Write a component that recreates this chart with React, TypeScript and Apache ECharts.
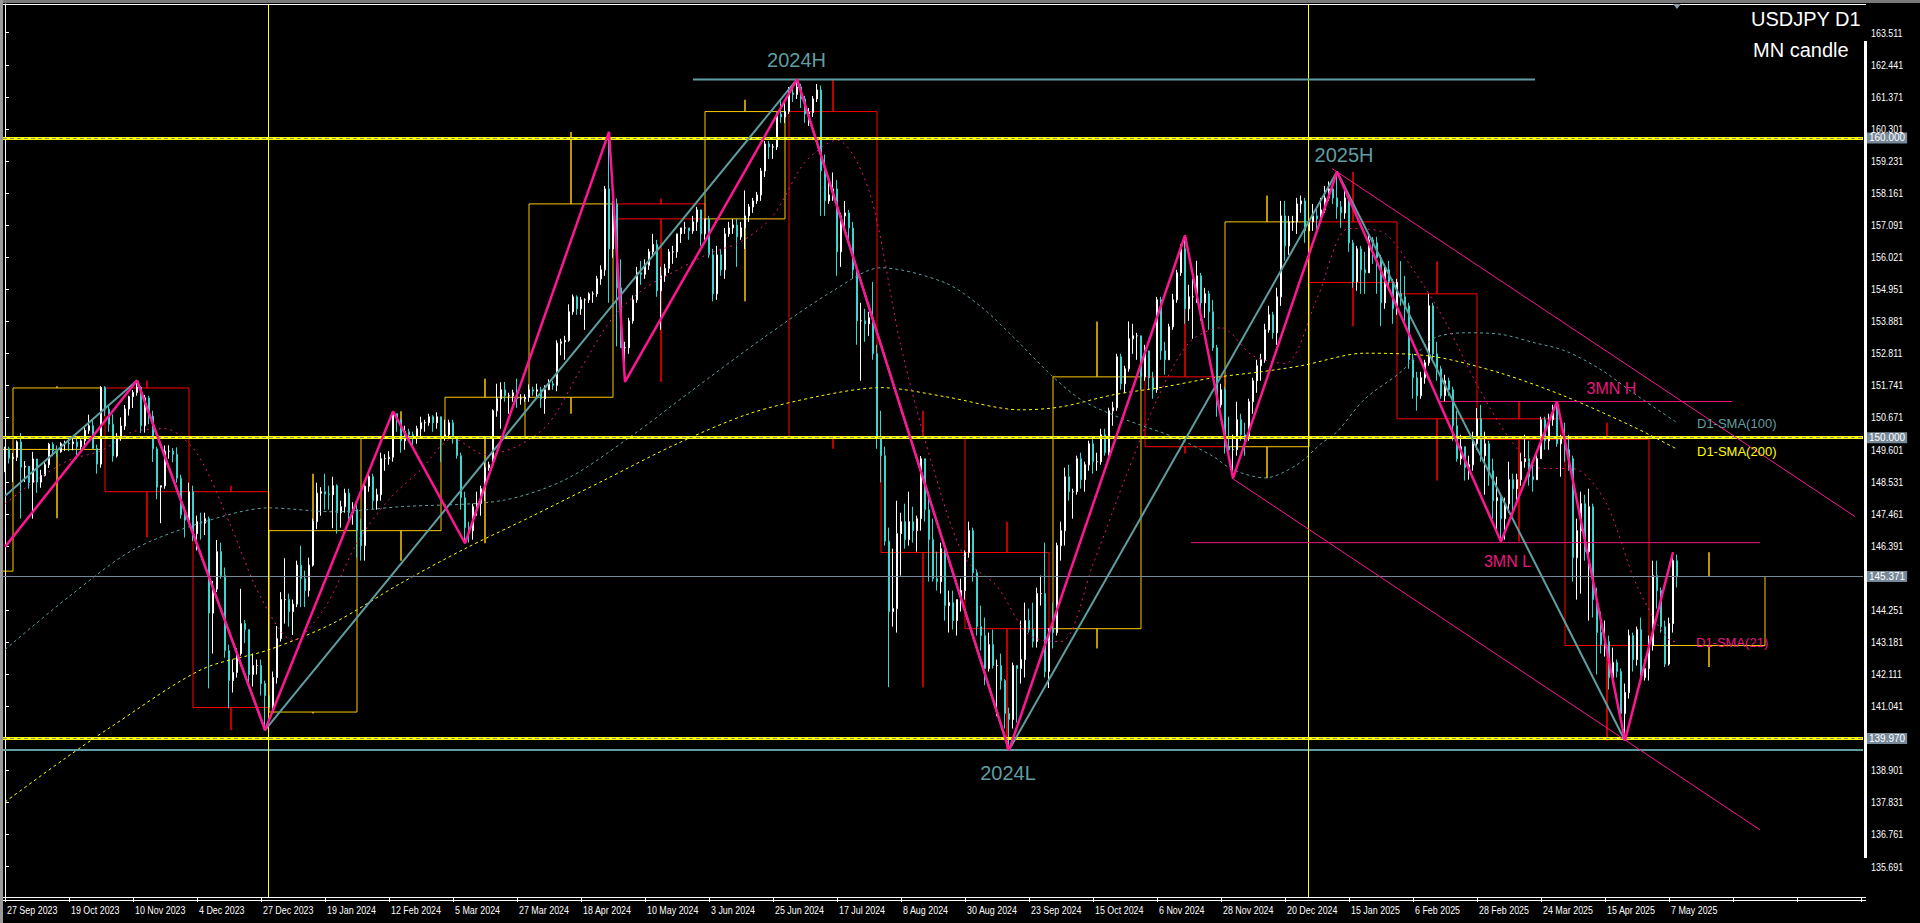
import { useEffect, useRef } from 'react';
import * as echarts from 'echarts';

// ---------- daily candles [open, high, low, close] ----------
const sep2023 = [[148.90,149.70,148.85,149.63],[149.63,149.70,149.14,149.31],[149.31,149.49,148.52,149.35]];
const oct2023 = [[149.35,149.91,149.22,149.86],[149.86,150.16,147.30,149.02],[149.02,149.22,148.52,149.05],[149.05,149.05,148.30,148.51],[148.51,149.53,147.30,149.29],[149.29,149.29,148.16,148.52],[148.52,148.93,148.33,148.74],[148.74,149.18,148.71,149.10],[149.10,149.83,148.99,149.78],[149.78,149.85,149.38,149.56],[149.56,149.74,149.35,149.53],[149.53,149.85,149.50,149.80],[149.80,149.90,149.56,149.82],[149.82,149.98,149.55,149.80],[149.80,150.00,149.58,149.86],[149.86,150.05,149.30,149.70],[149.70,149.95,149.60,149.90],[149.90,150.37,149.75,150.24],[150.24,150.77,150.13,150.40],[150.40,150.60,149.62,149.64],[149.64,149.77,148.80,149.12],[149.12,151.72,149.00,151.68]];
const nov2023 = [[151.68,151.72,150.72,150.95],[150.95,151.10,150.20,150.45],[150.45,150.78,149.20,149.39],[149.39,150.15,149.34,150.05],[150.05,150.68,149.90,150.39],[150.39,151.09,150.26,150.96],[150.96,151.40,150.74,151.37],[151.37,151.59,150.99,151.51],[151.51,151.91,151.40,151.69],[151.69,151.73,150.16,150.40],[150.40,151.43,150.17,151.33],[151.33,151.40,150.45,150.72],[150.72,150.90,149.19,149.63],[149.63,149.70,147.95,148.35],[148.35,148.40,147.15,148.40],[148.40,149.74,148.30,149.55],[149.55,149.75,149.30,149.55],[149.55,149.66,149.18,149.45],[149.45,149.68,148.50,148.65],[148.65,148.77,147.30,147.43],[147.43,147.70,146.67,147.25],[147.25,148.50,147.15,148.20]];
const dec2023 = [[148.20,148.40,146.55,146.80],[146.80,147.40,146.24,147.20],[147.20,147.50,146.60,147.15],[147.15,147.50,146.75,147.30],[147.30,147.37,141.64,144.15],[144.15,145.22,142.80,144.95],[144.95,146.59,144.85,146.20],[146.20,146.50,145.30,145.40],[145.40,145.67,142.66,142.90],[142.90,143.10,140.97,141.90],[141.90,142.60,141.50,142.17],[142.17,142.98,142.00,142.80],[142.80,144.96,142.73,143.80],[143.80,143.92,143.15,143.60],[143.60,143.60,141.80,142.10],[142.10,142.80,141.70,142.40],[142.40,142.60,142.10,142.40],[142.40,142.60,141.40,141.80],[141.80,141.90,140.25,141.40],[141.40,141.80,140.80,141.00]];
const jan2024 = [[140.85,142.20,140.80,142.00],[142.00,143.72,141.80,143.30],[143.30,144.85,143.20,144.60],[144.60,145.98,143.80,144.60],[144.60,144.80,143.70,144.20],[144.20,144.60,143.42,144.45],[144.45,145.90,144.35,145.75],[145.75,146.40,144.35,145.30],[145.30,145.57,144.35,144.90],[144.90,146.00,144.70,145.75],[145.75,147.30,145.70,147.20],[147.20,148.50,146.95,148.15],[148.15,148.35,147.40,148.20],[148.20,148.80,147.60,148.12],[148.12,148.40,147.60,148.10],[148.10,148.70,146.98,148.40],[148.40,148.45,146.80,147.50],[147.50,147.90,147.00,147.70],[147.70,148.30,147.50,148.15],[148.15,148.30,147.20,147.50],[147.50,147.85,147.10,147.60],[147.60,147.80,146.00,146.90]];
const feb2024 = [[146.90,147.30,145.90,146.40],[146.40,148.58,145.90,148.38],[148.38,148.90,148.20,148.70],[148.70,148.80,147.60,147.90],[147.90,148.30,147.60,148.10],[148.10,149.50,147.90,149.30],[149.30,149.45,148.90,149.30],[149.30,149.55,149.10,149.35],[149.35,150.88,149.20,150.80],[150.80,150.80,150.20,150.60],[150.60,150.60,149.50,149.90],[149.90,150.40,149.60,150.20],[150.20,150.30,149.90,150.10],[150.10,150.20,149.70,150.00],[150.00,150.40,149.80,150.30],[150.30,150.70,150.00,150.50],[150.50,150.60,150.20,150.50],[150.50,150.80,150.40,150.70],[150.70,150.75,150.20,150.50],[150.50,150.85,150.30,150.70],[150.70,150.70,149.20,149.98]];
const mar2024 = [[149.98,150.60,149.90,150.10],[150.10,150.60,150.00,150.50],[150.50,150.60,149.80,150.00],[150.00,150.00,149.30,149.40],[149.40,149.50,147.60,148.00],[148.00,148.20,146.48,147.00],[147.00,147.20,146.50,146.90],[146.90,147.80,146.60,147.70],[147.70,148.20,147.40,147.80],[147.80,148.40,147.40,148.30],[148.30,149.20,147.90,149.00],[149.00,149.20,148.90,149.10],[149.10,150.95,149.10,150.90],[150.90,151.80,150.70,151.30],[151.30,151.85,150.30,151.60],[151.60,151.86,151.20,151.40],[151.40,151.50,150.80,151.40],[151.40,151.60,151.20,151.50],[151.50,151.97,151.00,151.30],[151.30,151.45,151.10,151.30],[151.30,151.45,151.20,151.35]];
const apr2024 = [[151.35,151.78,151.20,151.60],[151.60,151.70,151.40,151.55],[151.55,151.80,151.30,151.60],[151.60,151.70,151.00,151.30],[151.30,151.75,150.80,151.60],[151.60,151.95,151.60,151.80],[151.80,151.90,151.60,151.75],[151.75,153.25,151.55,153.15],[153.15,153.30,152.75,153.20],[153.20,153.40,152.60,153.25],[153.25,154.45,153.20,154.20],[154.20,154.78,154.10,154.70],[154.70,154.75,154.10,154.30],[154.30,154.70,154.10,154.60],[154.60,154.65,153.60,154.60],[154.60,154.85,154.50,154.80],[154.80,154.88,154.50,154.80],[154.80,155.40,154.70,155.30],[155.30,155.75,155.10,155.60],[155.60,158.40,155.40,158.30],[158.30,160.20,154.50,156.30],[156.30,157.90,156.00,157.80]];
const may2024 = [[157.80,157.98,153.05,155.00],[155.00,155.95,153.00,153.00],[153.00,153.20,151.86,153.00],[153.00,154.00,152.80,153.90],[153.90,154.75,153.80,154.60],[154.60,155.70,154.50,155.50],[155.50,155.90,155.10,155.45],[155.45,155.95,155.30,155.75],[155.75,156.30,155.60,156.20],[156.20,156.80,156.10,156.45],[156.45,156.60,154.70,154.90],[154.90,155.70,153.60,155.40],[155.40,155.80,155.20,155.65],[155.65,156.30,155.50,156.20],[156.20,156.40,155.80,156.20],[156.20,156.80,156.00,156.80],[156.80,157.00,156.50,157.00],[157.00,157.20,156.80,157.00],[157.00,157.00,156.60,156.90],[156.90,157.40,156.80,157.20],[157.20,157.70,156.90,157.60],[157.60,157.60,156.40,156.80],[156.80,157.30,156.60,157.30]];
const jun2024 = [[157.30,157.40,156.00,156.10],[156.10,156.30,154.55,154.80],[154.80,156.40,154.60,156.10],[156.10,156.30,155.40,155.60],[155.60,157.00,155.30,156.80],[156.80,157.20,156.70,157.00],[157.00,157.30,156.80,157.10],[157.10,157.30,155.70,156.70],[156.70,157.20,156.60,157.00],[157.00,158.25,156.30,157.40],[157.40,157.80,157.20,157.70],[157.70,158.00,157.50,157.90],[157.90,158.20,157.80,158.10],[158.10,159.00,157.90,158.90],[158.90,159.90,158.70,159.80],[159.80,159.90,159.30,159.70],[159.70,159.80,159.30,159.70],[159.70,160.85,159.60,160.80],[160.80,161.27,160.50,160.70],[160.70,161.25,160.50,160.88]];
const jul2024 = [[160.88,161.70,160.80,161.50],[161.50,161.75,161.20,161.45],[161.45,161.95,161.30,161.70],[161.70,161.80,161.00,161.30],[161.30,161.40,160.50,160.80],[160.80,161.00,160.40,160.85],[160.85,161.40,160.70,161.30],[161.30,161.80,161.20,161.60],[161.60,161.75,157.40,158.90],[158.90,159.45,157.40,157.90],[157.90,158.60,157.80,158.10],[158.10,158.85,157.90,158.30],[158.30,158.60,155.40,156.20],[156.20,157.50,155.70,157.40],[157.40,157.90,156.90,157.50],[157.50,157.60,156.60,157.00],[157.00,157.20,155.30,155.60],[155.60,155.70,153.10,153.90],[153.90,154.50,151.90,153.90],[153.90,154.30,153.20,153.80],[153.80,154.20,153.40,154.00],[154.00,155.20,152.60,152.80],[152.80,153.10,149.63,149.98]];
const aug2024 = [[149.98,150.90,148.51,149.40],[149.40,149.70,146.40,146.55],[146.55,147.00,141.68,144.20],[144.20,146.30,143.70,144.30],[144.30,147.90,143.50,146.80],[146.80,147.50,145.40,147.20],[147.20,147.80,146.30,146.60],[146.60,148.20,146.40,147.20],[147.20,147.70,146.50,146.90],[146.90,147.40,146.20,147.30],[147.30,149.39,146.90,149.30],[149.30,149.30,147.20,147.60],[147.60,148.20,145.20,146.60],[146.60,147.30,145.20,145.30],[145.30,146.20,144.90,145.20],[145.20,146.50,144.80,146.30],[146.30,146.50,143.90,144.40],[144.40,144.90,143.50,144.50],[144.50,144.90,143.60,143.90],[143.90,144.60,143.40,144.60],[144.60,145.30,144.20,144.90],[144.90,146.24,144.60,146.17]];
const sep2024 = [[146.17,147.20,146.00,146.90],[146.90,147.00,145.20,145.50],[145.50,145.60,143.40,143.70],[143.70,144.40,142.90,143.40],[143.40,144.00,141.75,142.30],[142.30,143.50,142.20,143.10],[143.10,143.60,142.30,142.40],[142.40,142.60,140.71,142.40],[142.40,142.80,141.60,141.90],[141.90,141.95,140.30,140.80],[140.80,141.00,139.58,140.60],[140.60,142.50,140.30,142.40],[142.40,142.40,140.50,142.30],[142.30,143.90,141.80,142.60],[142.60,144.50,142.00,143.90],[143.90,144.30,143.50,143.60],[143.60,144.50,143.00,143.20],[143.20,145.00,143.00,144.80],[144.80,145.40,144.40,144.80],[144.80,146.50,142.00,142.20],[142.20,143.60,141.65,143.63]];
const oct2024 = [[143.63,144.50,142.97,143.50],[143.50,146.50,143.40,146.40],[146.40,147.20,145.90,146.90],[146.90,149.00,146.40,148.70],[148.70,149.10,147.90,148.20],[148.20,148.30,147.30,148.20],[148.20,149.40,148.10,149.30],[149.30,149.50,148.30,148.60],[148.60,149.20,148.20,149.10],[149.10,149.90,148.90,149.80],[149.80,149.95,148.80,149.20],[149.20,149.50,148.90,149.20],[149.20,150.30,149.10,150.10],[150.10,150.30,149.40,149.50],[149.50,151.00,149.40,150.90],[150.90,151.20,150.40,151.00],[151.00,152.80,150.90,152.70],[152.70,152.80,151.60,151.80],[151.80,152.40,151.50,152.30],[152.30,153.88,152.20,153.30],[153.30,153.80,152.80,153.40],[153.40,153.50,152.60,153.40],[153.40,153.40,151.60,152.03]];
const nov2024 = [[152.03,153.10,151.90,152.90],[152.90,152.90,151.60,152.00],[152.00,152.20,151.30,151.60],[151.60,154.70,151.50,154.60],[154.60,154.70,152.60,152.90],[152.90,153.20,152.10,152.60],[152.60,153.80,152.60,153.70],[153.70,154.80,153.60,154.60],[154.60,155.60,154.50,155.50],[155.50,156.45,155.40,156.30],[156.30,156.75,153.80,154.30],[154.30,155.10,153.90,154.70],[154.70,155.30,153.30,154.70],[154.70,155.90,154.50,155.40],[155.40,155.50,153.90,154.50],[154.50,155.00,154.00,154.80],[154.80,154.90,153.60,154.20],[154.20,154.60,152.90,153.00],[153.00,153.10,150.70,151.10],[151.10,151.80,151.00,151.60],[151.60,151.70,149.47,149.70]];
const dec2024 = [[149.70,150.70,149.30,149.60],[149.60,150.10,148.65,149.60],[149.60,151.20,149.40,150.60],[150.60,150.80,149.90,150.10],[150.10,150.50,149.40,150.00],[150.00,151.30,149.90,151.20],[151.20,152.00,150.80,151.90],[151.90,152.60,151.50,152.40],[152.40,152.80,151.90,152.60],[152.60,153.80,152.50,153.60],[153.60,154.40,153.50,154.10],[154.10,154.20,153.30,153.50],[153.50,155.00,153.10,154.70],[154.70,157.90,154.40,157.40],[157.40,157.90,155.90,156.40],[156.40,157.40,156.10,157.20],[157.20,157.40,156.90,157.20],[157.20,158.00,156.80,157.80],[157.80,158.08,157.50,157.90],[157.90,158.00,156.50,156.90],[156.90,157.40,156.60,157.20]];
const jan2025 = [[157.20,157.80,156.90,157.40],[157.40,157.70,156.90,157.30],[157.30,158.00,157.20,157.60],[157.60,158.40,157.50,158.00],[158.00,158.55,157.90,158.30],[158.30,158.40,157.80,158.00],[158.00,158.87,157.30,157.70],[157.70,157.90,157.00,157.50],[157.50,158.30,157.30,158.00],[158.00,158.10,156.20,156.50],[156.50,156.60,155.00,155.20],[155.20,156.40,154.90,156.30],[156.30,156.40,154.80,155.60],[155.60,156.20,154.80,155.50],[155.50,156.80,155.50,156.60],[156.60,156.70,155.80,156.50],[156.50,156.70,154.80,156.00],[156.00,156.10,153.72,154.50],[154.50,155.80,154.30,155.60],[155.60,155.90,154.90,155.20],[155.20,155.30,153.80,154.30],[154.30,155.30,154.10,155.18]];
const feb2025 = [[154.80,155.89,154.40,154.70],[154.70,155.40,153.90,154.40],[154.40,154.50,152.30,152.60],[152.60,152.80,151.30,152.00],[152.00,152.20,150.90,151.40],[151.40,152.20,151.30,152.00],[152.00,152.60,151.80,152.50],[152.50,154.80,152.40,154.40],[154.40,154.50,152.60,152.80],[152.80,153.20,151.90,152.30],[152.30,152.40,151.30,151.40],[151.40,152.10,151.20,151.90],[151.90,152.00,151.40,151.60],[151.60,151.70,149.90,150.40],[150.40,150.90,149.20,149.30],[149.30,150.10,149.10,149.70],[149.70,149.70,148.57,149.00],[149.00,149.40,148.60,149.10],[149.10,150.20,148.90,149.80],[149.80,150.99,149.60,150.63]];
const mar2025 = [[150.63,151.10,149.20,149.40],[149.40,150.20,148.10,149.80],[149.80,149.90,148.40,148.90],[148.90,149.30,147.30,147.90],[147.90,148.70,146.90,148.00],[148.00,148.10,146.54,147.30],[147.30,148.00,146.60,147.80],[147.80,149.20,147.50,148.60],[148.60,148.80,147.40,148.30],[148.30,148.80,147.80,148.60],[148.60,149.50,148.40,149.20],[149.20,150.10,149.00,149.30],[149.30,149.90,148.40,148.70],[148.70,149.20,148.20,148.60],[148.60,149.50,148.60,149.30],[149.30,150.70,149.30,150.60],[150.60,150.70,149.60,149.90],[149.90,150.80,149.60,150.60],[150.60,151.10,150.40,151.00],[151.00,151.21,149.70,149.80],[149.80,150.10,148.70,149.95]];
const apr2025 = [[149.95,150.50,149.20,149.60],[149.60,150.10,148.90,149.30],[149.30,149.40,145.20,146.00],[146.00,147.30,144.60,146.90],[146.90,148.20,144.80,147.80],[147.80,148.10,145.90,146.20],[146.20,148.30,143.90,147.70],[147.70,147.80,144.00,144.60],[144.60,145.00,142.10,143.50],[143.50,144.20,142.80,143.10],[143.10,143.90,142.70,143.20],[143.20,143.40,141.60,142.00],[142.00,143.00,141.80,142.50],[142.50,142.60,142.00,142.20],[142.20,142.30,140.60,140.80],[140.80,141.80,139.89,141.50],[141.50,143.60,141.30,143.40],[143.40,143.50,142.20,142.60],[142.60,143.70,142.40,143.60],[143.60,144.00,141.90,142.00],[142.00,142.60,141.90,142.30],[142.30,143.40,141.90,143.07]];
const may2025 = [[143.07,145.90,142.90,145.40],[145.40,145.90,144.30,144.90],[144.90,145.00,143.50,143.70],[143.70,143.90,142.35,142.45],[142.45,144.00,142.40,143.80],[143.80,146.18,143.50,145.90],[145.90,146.10,145.00,145.37]];

// ---------- axis tick labels ----------
const dateTicks = ['27 Sep 2023','19 Oct 2023','10 Nov 2023','4 Dec 2023','27 Dec 2023','19 Jan 2024','12 Feb 2024','5 Mar 2024','27 Mar 2024','18 Apr 2024','10 May 2024','3 Jun 2024','25 Jun 2024','17 Jul 2024','8 Aug 2024','30 Aug 2024','23 Sep 2024','15 Oct 2024','6 Nov 2024','28 Nov 2024','20 Dec 2024','15 Jan 2025','6 Feb 2025','28 Feb 2025','24 Mar 2025','15 Apr 2025','7 May 2025'];
const priceTicks = [163.511,162.441,161.371,160.301,159.231,158.161,157.091,156.021,154.951,153.881,152.811,151.741,150.671,149.601,148.531,147.461,146.391,144.251,143.181,142.111,141.041,138.901,137.831,136.761,135.691];

// ---------- monthly candles (MN candle) ----------
const monthStart = [-18,2,25,47,66,89,110,131,153,175,196,219,240,262,285,305,326,348,368,390,412];
const monthEnd = [2,24,46,66,88,109,130,152,175,195,218,240,261,284,305,326,348,368,389,411,440];
const monthOpen = [145.55,149.61,151.66,148.20,140.85,146.90,149.98,151.35,157.80,157.30,160.88,149.98,146.17,143.63,152.03,149.70,157.20,154.80,150.63,149.95,143.07];
const monthHigh = [149.71,151.72,151.91,148.40,148.80,150.88,151.97,160.20,157.98,161.27,161.95,150.90,147.20,153.88,156.75,158.08,158.87,155.89,151.21,150.50,146.18];
const monthLow = [144.44,147.31,146.67,140.25,140.80,145.90,146.48,150.80,151.86,154.55,149.63,141.68,139.58,142.97,149.47,148.65,153.72,148.57,146.54,139.89,142.35];
const monthClose = [149.61,151.66,148.20,141.00,146.90,149.98,151.35,157.80,157.30,160.88,149.98,146.17,143.63,152.03,149.70,157.20,155.18,150.63,149.95,143.07,145.37];

// ---------- moving averages [bar, value] ----------
const sma21 = [[0,147.80],[8,148.60],[16,149.25],[24,149.57],[32,150.20],[40,150.30],[48,149.47],[56,147.20],[64,144.66],[72,143.24],[80,144.34],[88,146.49],[96,147.94],[104,148.94],[112,149.97],[120,149.44],[128,149.71],[136,150.49],[144,152.31],[152,154.02],[160,154.99],[168,155.59],[176,156.14],[184,156.54],[192,157.40],[200,159.19],[208,159.93],[216,158.24],[224,153.04],[232,149.01],[240,145.99],[248,145.04],[256,143.42],[264,143.20],[272,145.78],[280,148.63],[288,151.27],[296,153.17],[304,153.67],[312,152.73],[320,152.48],[328,154.64],[336,156.98],[344,156.88],[352,155.61],[360,153.89],[368,151.77],[376,150.00],[384,148.98],[392,148.97],[400,147.89],[408,145.06],[416,143.25],[418,143.20]];
const sma100 = [[0,142.93],[16,144.70],[32,146.26],[49,147.16],[66,147.66],[82,147.53],[99,147.70],[124,147.90],[140,148.60],[156,150.00],[172,151.60],[190,153.37],[207,154.90],[219,155.67],[235,155.17],[244,154.37],[252,153.37],[262,152.03],[269,151.27],[277,150.76],[285,150.37],[294,149.93],[302,149.38],[307,148.93],[315,148.66],[323,149.10],[329,149.80],[333,150.20],[340,151.30],[349,152.20],[357,153.30],[365,153.50],[374,153.45],[382,153.18],[390,152.90],[399,152.27],[407,151.50],[418,150.50]];
const sma200 = [[0,137.85],[15,139.30],[26,140.31],[49,142.26],[66,142.93],[82,143.81],[99,145.15],[115,146.30],[132,147.40],[150,148.60],[168,149.80],[186,150.80],[204,151.40],[219,151.67],[235,151.37],[254,150.93],[264,151.03],[277,151.43],[290,151.70],[302,152.00],[314,152.20],[324,152.40],[340,152.82],[357,152.71],[374,152.15],[390,151.38],[407,150.37],[418,149.62]];

// ---------- zigzags & drawn objects [bar, price] ----------
const zigzagPink = [[0,146.36],[33,151.91],[65,140.25],[97,150.88],[115,146.48],[151,160.20],[155,151.86],[198,161.95],[251,139.58],[295,156.75],[307,148.65],[333,158.87],[374,146.54],[388,151.21],[405,139.89],[417,146.18]];
const zigzagTeal = [[0,148.06],[33,151.91],[65,140.25],[198,161.95],[251,139.58],[333,158.87],[405,139.89]];
const channelUpper = [[331.75,158.98],[462.5,147.37]];
const channelLower = [[306.75,148.65],[438.75,136.92]];
const high2024 = [[172,161.95],[382.5,161.95]];
const mn3High = [[358.75,151.21],[431.75,151.21]];
const mn3Low = [[296.5,146.5],[438.75,146.5]];
const keyLevels = [160.0, 150.0, 139.97];
const low2024 = 139.58;
const lastPrice = 145.371;
const yearLines = [65.75, 325.75];

const N_SLOTS = 465;
const Y_MIN = 134.68;
const Y_MAX = 164.468;
const SANS = "'Liberation Sans', Arial, sans-serif";
const PINK = '#FF1493';
const SMA_PINK = '#E8177F';
const TEAL = '#5F9EA0';
const NARROW_SCALE = 0.81;

function staticGraphics() {
  const txt = (text: string, x: number, y: number, color: string, size: number, align = 'left') => ({
    type: 'text', x, y, z: 100, silent: true,
    style: { text, fill: color, font: `${size}px ${SANS}`, textAlign: align, align, textVerticalAlign: 'middle', verticalAlign: 'middle' },
  });
  return [
    { type: 'rect', z: 90, silent: true, shape: { x: 0, y: 0, width: 1920, height: 3 }, style: { fill: '#7a7a7a' } },
    { type: 'rect', z: 90, silent: true, shape: { x: 0, y: 0, width: 3, height: 923 }, style: { fill: '#9a9a9a' } },
    { type: 'line', z: 90, silent: true, shape: { x1: 3, y1: 4.5, x2: 1866, y2: 4.5 }, style: { stroke: '#FFFFFF', lineWidth: 1 } },
    { type: 'line', z: 90, silent: true, shape: { x1: 3, y1: 900.5, x2: 1866, y2: 900.5 }, style: { stroke: '#FFFFFF', lineWidth: 1 } },
    { type: 'line', z: 90, silent: true, shape: { x1: 1863, y1: 897.5, x2: 1866, y2: 897.5 }, style: { stroke: '#FFFFFF', lineWidth: 1 } },
    { type: 'rect', z: 90, silent: true, shape: { x: 1864, y: 41, width: 3, height: 817 }, style: { fill: '#FFFFFF' } },
    { type: 'polygon', z: 90, silent: true, shape: { points: [[1673, 4], [1681, 4], [1677, 9]] }, style: { fill: '#8c9aa8' } },
    txt('USDJPY D1', 1751, 18.5, '#FFFFFF', 20),
    txt('MN candle', 1753, 49.5, '#FFFFFF', 20),
    txt('2024H', 796.5, 59.5, TEAL, 20, 'center'),
    txt('2025H', 1344, 155, TEAL, 20, 'center'),
    txt('2024L', 1008, 773, TEAL, 20, 'center'),
    txt('3MN H', 1611.5, 388.5, SMA_PINK, 16, 'center'),
    txt('3MN L', 1507.5, 561, SMA_PINK, 16, 'center'),
    txt('D1-SMA(100)', 1697, 423.3, TEAL, 13),
    txt('D1-SMA(200)', 1697, 451, '#FFFF00', 13),
    txt('D1-SMA(21)', 1696, 642, SMA_PINK, 13),
  ];
}

// narrow axis text (MT4 style), horizontally condensed
function axisText(text: string, x: number, y: number) {
  return {
    type: 'text', x, y, scaleX: NARROW_SCALE, scaleY: 1, z: 100, silent: true,
    style: { text, fill: '#FFFFFF', font: `11px ${SANS}`, textAlign: 'left', align: 'left', textVerticalAlign: 'middle', verticalAlign: 'middle' },
  };
}

function buildOption() {
  const daily = [...sep2023, ...oct2023, ...nov2023, ...dec2023, ...jan2024, ...feb2024, ...mar2024, ...apr2024, ...may2024, ...jun2024, ...jul2024, ...aug2024, ...sep2024, ...oct2024, ...nov2024, ...dec2024, ...jan2025, ...feb2025, ...mar2025, ...apr2025, ...may2025];
  const candles = daily.map((d) => [d[0], d[3], d[2], d[1]]);
  const categories = Array.from({ length: N_SLOTS }, (_, i) => String(i));
  const months = monthStart.map((s, i) => [s, monthEnd[i], monthOpen[i], monthHigh[i], monthLow[i], monthClose[i]]);

  const hlLabel = (txt: string) => ({
    show: true, position: 'end', distance: 4, formatter: txt, color: '#FFFFFF',
    backgroundColor: '#778899', padding: [1, 2, 0, 2], fontSize: 10, lineHeight: 10, fontFamily: SANS,
  });

  const markData: any[] = [];
  keyLevels.forEach((v) => {
    markData.push({ yAxis: v, lineStyle: { color: '#FFFF00', width: 3, type: 'solid' }, label: hlLabel(v.toFixed(3)) });
    markData.push({ yAxis: v, lineStyle: { color: '#8a8a70', width: 1, type: [4, 3] }, label: { show: false } });
  });
  markData.push({ yAxis: low2024, lineStyle: { color: TEAL, width: 2, type: 'solid' }, label: { show: false } });
  markData.push({ yAxis: lastPrice, lineStyle: { color: '#778899', width: 1, type: 'solid' }, label: hlLabel(lastPrice.toFixed(3)) });
  yearLines.forEach((x) => markData.push({ xAxis: x, lineStyle: { color: '#FFFF00', width: 1, type: 'solid' }, label: { show: false } }));

  const seg = (data: number[][], color: string, width: number, z: number, extra: any = {}) => ({
    type: 'line', xAxisIndex: 1, yAxisIndex: 0, data, symbol: 'none', silent: true, z,
    lineStyle: { color, width, type: 'solid', ...(extra.lineStyle || {}) }, smooth: extra.smooth || false,
  });

  return {
    animation: false,
    backgroundColor: '#000000',
    grid: { left: 3, top: 4, width: 1860, height: 893, containLabel: false },
    xAxis: [
      {
        type: 'category', data: categories, boundaryGap: true, position: 'bottom',
        axisLine: { show: true, lineStyle: { color: '#FFFFFF', width: 1 } },
        axisTick: { show: true, interval: 15, alignWithLabel: true, length: 5, lineStyle: { color: '#FFFFFF' } },
        axisLabel: { show: false },
        splitLine: { show: false },
      },
      { type: 'value', min: -0.5, max: N_SLOTS - 0.5, show: false },
    ],
    yAxis: {
      type: 'value', min: Y_MIN, max: Y_MAX, position: 'right', offset: 2,
      axisLine: { show: true, lineStyle: { color: '#FFFFFF', width: 1 } },
      axisTick: { show: true, length: 4, customValues: priceTicks, lineStyle: { color: '#FFFFFF' } },
      axisLabel: { show: false },
      splitLine: { show: false },
    },
    series: [
      {
        type: 'custom', xAxisIndex: 1, yAxisIndex: 0, clip: true, silent: true, z: 1,
        data: months, encode: { x: [0, 1], y: [2, 3, 4, 5] },
        renderItem: (_p: any, api: any) => {
          const l = api.value(0), r = api.value(1), o = api.value(2), h = api.value(3), lo = api.value(4), c = api.value(5);
          const color = c >= o ? '#FFC800' : '#FF0000';
          const tl = api.coord([l, Math.max(o, c)]);
          const br = api.coord([r, Math.min(o, c)]);
          const mid = (l + r) / 2;
          const ph = api.coord([mid, h]);
          const pl = api.coord([mid, lo]);
          return {
            type: 'group',
            children: [
              { type: 'rect', shape: { x: tl[0], y: tl[1], width: br[0] - tl[0], height: br[1] - tl[1] }, style: { fill: 'none', stroke: color, lineWidth: 1 } },
              { type: 'line', shape: { x1: ph[0], y1: ph[1], x2: ph[0], y2: tl[1] }, style: { stroke: color, lineWidth: 1.5 } },
              { type: 'line', shape: { x1: pl[0], y1: br[1], x2: pl[0], y2: pl[1] }, style: { stroke: color, lineWidth: 1.5 } },
            ],
          };
        },
      },
      {
        type: 'line', xAxisIndex: 1, yAxisIndex: 0, data: [], silent: true, z: 2,
        markLine: { symbol: ['none', 'none'], silent: true, animation: false, label: { show: false }, data: markData },
      },
      {
        type: 'candlestick', xAxisIndex: 0, yAxisIndex: 0, data: candles, barWidth: 2.2, z: 3, silent: true,
        itemStyle: { color: '#FFF0F5', color0: '#1E9EEA', borderColor: '#FFFFFF', borderColor0: '#3CD6CE', borderWidth: 1 },
      },
      seg(sma200, '#FFFF00', 1, 4, { smooth: 0.3, lineStyle: { type: [3, 3] } }),
      seg(sma100, TEAL, 1, 4, { smooth: 0.3, lineStyle: { type: [3, 3] } }),
      seg(sma21, SMA_PINK, 1, 4, { smooth: 0.3, lineStyle: { type: [2, 4] } }),
      seg(channelUpper, PINK, 1, 5),
      seg(channelLower, PINK, 1, 5),
      seg(mn3High, SMA_PINK, 1, 5),
      seg(mn3Low, SMA_PINK, 1, 5),
      seg(high2024, TEAL, 2, 5),
      seg(zigzagTeal, TEAL, 2, 6),
      seg(zigzagPink, PINK, 2.5, 7),
    ],
    graphic: staticGraphics(),
  };
}

export default function App() {
  const ref = useRef<HTMLDivElement>(null);
  useEffect(() => {
    document.body.style.margin = '0';
    document.body.style.background = '#000000';
    const chart = echarts.init(ref.current as HTMLDivElement, null, { renderer: 'svg' });
    chart.setOption(buildOption() as any);

    // axis labels placed through the chart's own scales
    const labels: any[] = [];
    const axisY = chart.convertToPixel({ yAxisIndex: 0 }, Y_MIN) as number;
    dateTicks.forEach((t, k) => {
      const x = chart.convertToPixel({ xAxisIndex: 1 }, k * 16) as number;
      labels.push(axisText(t, x + 2, axisY + 13));
    });
    priceTicks.forEach((v) => {
      const y = chart.convertToPixel({ yAxisIndex: 0 }, v) as number;
      labels.push(axisText(v.toFixed(3), 1871, y));
    });
    chart.setOption({ graphic: [...staticGraphics(), ...labels] } as any);
    return () => chart.dispose();
  }, []);
  return <div ref={ref} style={{ width: 1920, height: 923, background: '#000000' }} />;
}
